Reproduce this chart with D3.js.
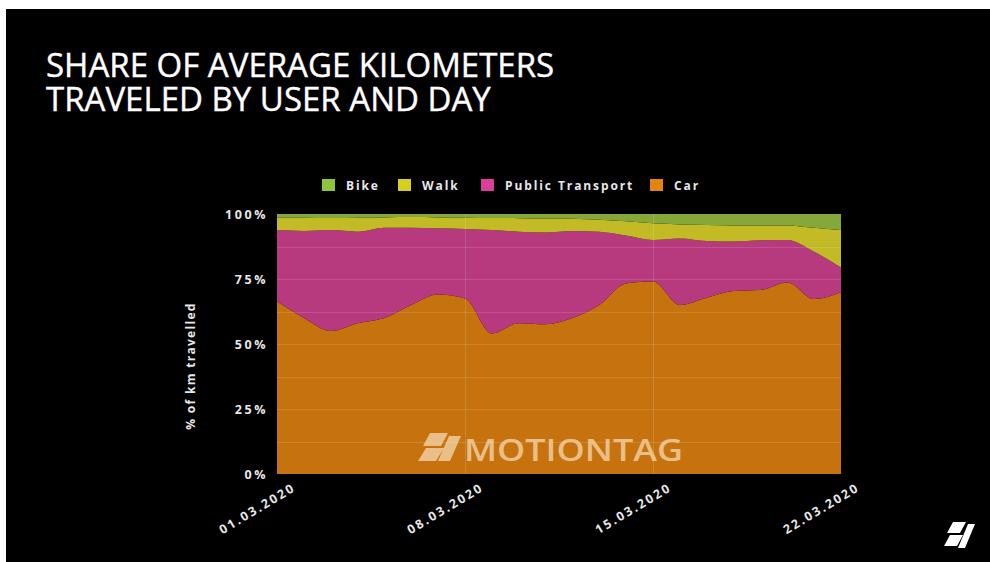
<!DOCTYPE html>
<html>
<head>
<meta charset="utf-8">
<script src="https://cdn.jsdelivr.net/npm/d3@7"></script>
<style>
  html, body { margin: 0; padding: 0; background: #000; }
  svg { display: block; }
  text { font-family: "Open Sans", "DejaVu Sans", sans-serif; }
</style>
</head>
<body>
<svg id="chart" width="990" height="562"></svg>
<script>
// data (share of km in %)
const dates = ["2020-03-01","2020-03-02","2020-03-03","2020-03-04","2020-03-05","2020-03-06","2020-03-07",
  "2020-03-08","2020-03-09","2020-03-10","2020-03-11","2020-03-12","2020-03-13","2020-03-14",
  "2020-03-15","2020-03-16","2020-03-17","2020-03-18","2020-03-19","2020-03-20","2020-03-21","2020-03-22"];
const car = [66.3, 60.0, 55.0, 58.0, 60.0, 65.0, 69.0, 67.5, 54.0, 58.0, 57.6, 60.0, 65.0, 73.3, 74.0, 65.0, 67.8, 70.4, 70.8, 73.7, 67.3, 69.9];
const publicTransport = [27.5, 33.5, 38.8, 35.2, 34.7, 29.7, 25.5, 26.7, 39.8, 35.2, 35.3, 33.5, 28.2, 18.4, 16.0, 25.6, 21.8, 19.0, 19.1, 16.3, 18.2, 9.5];
const walk = [4.8, 5.1, 4.7, 5.4, 4.0, 4.1, 4.2, 4.4, 4.7, 5.2, 5.4, 4.7, 4.6, 5.5, 6.4, 5.4, 6.2, 6.2, 5.7, 5.6, 9.2, 14.4];
const bike = [1.4, 1.4, 1.5, 1.4, 1.3, 1.2, 1.3, 1.4, 1.5, 1.6, 1.7, 1.8, 2.2, 2.8, 3.6, 4.0, 4.2, 4.4, 4.4, 4.4, 5.3, 6.2];
const tickDates = ["2020-03-01", "2020-03-08", "2020-03-15", "2020-03-22"];
const yTicks = [0, 0.25, 0.5, 0.75, 1];
const legendNames = ["Bike", "Walk", "Public Transport", "Car"];
const titleLines = ["SHARE OF AVERAGE KILOMETERS", "TRAVELED BY USER AND DAY"];

const parse = d3.timeParse("%Y-%m-%d");
const keys = ["car", "pt", "walk", "bike"];
const areaColor = {car: "#c6730f", pt: "#b73a7e", walk: "#c3bb25", bike: "#86a83a"};
const legendColor = {Bike: "#8cc43c", Walk: "#d6cf1e", "Public Transport": "#da3e98", Car: "#e5830f"};

const rows = dates.map((d, i) => ({
    date: parse(d),
    car: car[i] / 100,
    pt: publicTransport[i] / 100,
    walk: walk[i] / 100,
    bike: bike[i] / 100
}));

const svg = d3.select("#chart");

// slide frame
svg.append("rect").attr("width", 990).attr("height", 562).attr("fill", "#000");
svg.append("rect").attr("width", 990).attr("height", 9).attr("fill", "#fff");
svg.append("rect").attr("width", 6).attr("height", 562).attr("fill", "#fff");

// title, one text per line
svg.append("g")
    .selectAll("text")
    .data(titleLines)
    .join("text")
    .attr("x", 46)
    .attr("y", (d, i) => 77 + i * 34)
    .attr("fill", "#fff")
    .attr("stroke", "#fff")
    .attr("stroke-width", 0.4)
    .style("font-size", "33px")
    .text(d => d);

const x = d3.scaleTime()
    .domain(d3.extent(rows, d => d.date))
    .range([277, 841]);
const y = d3.scaleLinear()
    .domain([0, 1])
    .range([474, 214]);

const series = d3.stack().keys(keys)(rows);

const area = d3.area()
    .x(d => x(d.data.date))
    .y0(d => y(d[0]))
    .y1(d => y(d[1]))
    .curve(d3.curveMonotoneX);

svg.append("g")
    .selectAll("path")
    .data(series)
    .join("path")
    .attr("fill", d => areaColor[d.key])
    .attr("d", area);

// grid on top of the areas, faint
const grid = svg.append("g").attr("stroke", "#fff").attr("stroke-opacity", 0.13).attr("stroke-width", 1);
grid.selectAll("line.h")
    .data(d3.range(1, 8).map(i => i / 8))
    .join("line")
    .attr("class", "h")
    .attr("x1", 277).attr("x2", 841)
    .attr("y1", d => Math.round(y(d)) + 0.5).attr("y2", d => Math.round(y(d)) + 0.5);
grid.selectAll("line.v")
    .data(tickDates.slice(1, 3).map(parse))
    .join("line")
    .attr("class", "v")
    .attr("y1", 214).attr("y2", 474)
    .attr("x1", d => Math.round(x(d)) + 0.5).attr("x2", d => Math.round(x(d)) + 0.5);

// y axis
const yAxis = svg.append("g")
    .attr("transform", "translate(268,0)")
    .call(d3.axisLeft(y).tickValues(yTicks).tickFormat(d3.format(".0%")).tickSize(0).tickPadding(0));
yAxis.select(".domain").remove();
yAxis.selectAll("text")
    .attr("fill", "#e8e8e8")
    .style("font-size", "12.5px")
    .style("font-weight", "bold")
    .style("letter-spacing", "2.6px");

svg.append("text")
    .attr("transform", "translate(195,366) rotate(-90)")
    .attr("text-anchor", "middle")
    .attr("fill", "#e8e8e8")
    .style("font-size", "12px")
    .style("font-weight", "bold")
    .style("letter-spacing", "1.3px")
    .text("% of km travelled");

// x axis
const xAxis = svg.append("g")
    .attr("transform", "translate(0,474)")
    .call(d3.axisBottom(x).tickValues(tickDates.map(parse)).tickFormat(d3.timeFormat("%d.%m.%Y")).tickSize(0).tickPadding(0));
xAxis.select(".domain").remove();
xAxis.selectAll("text")
    .attr("fill", "#e8e8e8")
    .attr("text-anchor", "end")
    .attr("dy", 0)
    .attr("y", 0)
    .attr("transform", "translate(19,16) rotate(-31)")
    .style("font-size", "12.5px")
    .style("font-weight", "bold")
    .style("letter-spacing", "2.2px");

// legend
const legendX = [322, 398, 481, 650];
const legend = svg.append("g")
    .selectAll("g")
    .data(legendNames)
    .join("g")
    .attr("transform", (d, i) => `translate(${legendX[i]},179)`);
legend.append("rect")
    .attr("width", 13).attr("height", 12)
    .attr("fill", d => legendColor[d]);
legend.append("text")
    .attr("x", 24).attr("y", 10.5)
    .attr("fill", "#e8e8e8")
    .style("font-size", "12px")
    .style("font-weight", "bold")
    .style("letter-spacing", "1.9px")
    .text(d => d);

// watermark
const mark = svg.append("g").attr("fill", "#f2d3a6").attr("opacity", 0.8);
mark.append("path")
    .attr("d", "M430,433 L448,433 L441,446 L423,446 Z M426,448 L444,448 L436,461 L418,461 Z M449,436 L461,436 L450,461 L438,461 Z");
mark.append("text")
    .attr("x", 464).attr("y", 461)
    .attr("textLength", 219)
    .attr("lengthAdjust", "spacingAndGlyphs")
    .style("font-size", "31px")
    .style("font-weight", "600")
    .text("MOTIONTAG");

// corner logo
svg.append("path")
    .attr("fill", "#fff")
    .attr("d", "M953,522 L966,522 L960,533 L947,533 Z M950,535 L963,535 L957,546 L944,546 Z M968,524 L975,524 L965,548 L958,548 Z");
</script>
</body>
</html>
